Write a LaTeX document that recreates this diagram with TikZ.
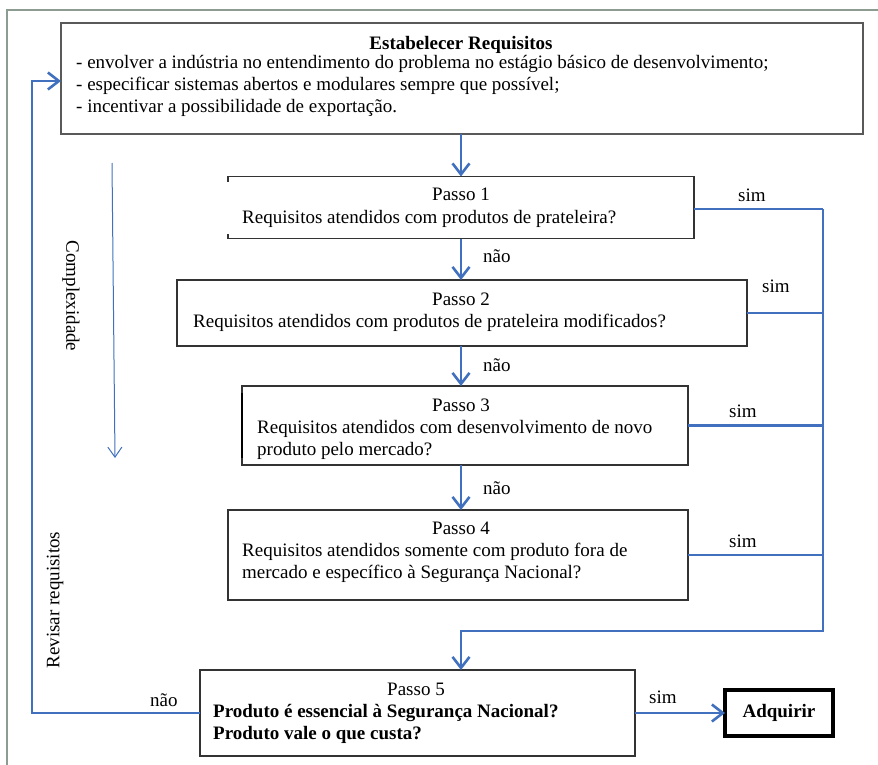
\documentclass[tikz,border=0pt]{standalone}
\usepackage{fontspec}
\setmainfont{Liberation Serif}
\usetikzlibrary{arrows.meta}
\definecolor{flowblue}{RGB}{65,113,190}
\definecolor{framegray}{RGB}{140,156,145}
\begin{document}
\begin{tikzpicture}[x=1pt,y=-1pt,
  txt/.style={font=\fontsize{19}{22}\selectfont, inner sep=0pt},
  btxt/.style={font=\fontsize{19}{22}\selectfont\bfseries, inner sep=0pt},
  boxshape/.style={rectangle, inner sep=0pt, outer sep=0pt},
  boxline/.style={draw=black!80, line width=1.1pt},
  flow/.style={draw=flowblue, line width=2.6pt, -{Straight Barb[length=11pt,width=17pt]}},
  conn/.style={draw=flowblue, line width=2.6pt},
  thinflow/.style={draw=flowblue, line width=1pt, -{Straight Barb[length=10pt,width=14pt]}}
]
\useasboundingbox (0,0) rectangle (878,765);
% outer frame
\draw[framegray, line width=2pt] (7,765) -- (7,10) -- (878,10);

% boxes
\node[boxshape, draw=black!65, line width=1.2pt, minimum width=802pt, minimum height=111pt] (req) at (462,78.5) {};
\node[boxshape, minimum width=466pt, minimum height=62pt] (p1) at (461,207.5) {};
\draw[boxline] ([yshift=-5pt]p1.north west) -- (p1.north west) -- (p1.north east) -- (p1.south east) -- (p1.south west) -- ([yshift=5pt]p1.south west);
\node[boxshape, boxline, minimum width=570pt, minimum height=66pt] (p2) at (462,313) {};
\node[boxshape, boxline, minimum width=446pt, minimum height=79pt] (p3) at (465,425.5) {};
\draw[black, line width=2pt] ([yshift=-7pt]p3.north west) -- ([yshift=7pt]p3.south west);
\node[boxshape, boxline, minimum width=460pt, minimum height=90pt] (p4) at (458,555) {};
\node[boxshape, boxline, minimum width=435pt, minimum height=86pt] (p5) at (417.5,713) {};
\node[boxshape, draw=black, line width=3.5pt, minimum width=108pt, minimum height=46pt, btxt] (adq) at (779,713) {Adquirir};

% texts
\node[btxt, anchor=base] (reqt) at (461,50) {Estabelecer Requisitos};
\node[txt, anchor=base west] (req1) at (76,69) {- envolver a indústria no entendimento do problema no estágio básico de desenvolvimento;};
\node[txt, anchor=base west] (req2) at (76,91) {- especificar sistemas abertos e modulares sempre que possível;};
\node[txt, anchor=base west] (req3) at (76,113) {- incentivar a possibilidade de exportação.};

\node[txt, anchor=base] (p1t) at (461,200) {Passo 1};
\node[txt, anchor=base west] (p1q) at (242,223) {Requisitos atendidos com produtos de prateleira?};
\node[txt, anchor=base] (p2t) at (461,305) {Passo 2};
\node[txt, anchor=base west] (p2q) at (193,327) {Requisitos atendidos com produtos de prateleira modificados?};
\node[txt, anchor=base] (p3t) at (461,411) {Passo 3};
\node[txt, anchor=base west] (p3q) at (257,433) {Requisitos atendidos com desenvolvimento de novo};
\node[txt, anchor=base west] (p3r) at (257,455) {produto pelo mercado?};
\node[txt, anchor=base] (p4t) at (461,534) {Passo 4};
\node[txt, anchor=base west] (p4q) at (242,556) {Requisitos atendidos somente com produto fora de};
\node[txt, anchor=base west] (p4r) at (242,578) {mercado e específico à Segurança Nacional?};
\node[txt, anchor=base] (p5t) at (416,695) {Passo 5};
\node[btxt, anchor=base west] (p5q) at (213,717) {Produto é essencial à Segurança Nacional?};
\node[btxt, anchor=base west] (p5r) at (213,739) {Produto vale o que custa?};

% labels
\node[txt, anchor=base west] (n1) at (483,262) {não};
\node[txt, anchor=base west] (n2) at (483,371) {não};
\node[txt, anchor=base west] (n3) at (483,494) {não};
\node[txt, anchor=base west] (n5) at (150,706) {não};
\node[txt, anchor=base west] (s1) at (738,201) {sim};
\node[txt, anchor=base west] (s2) at (762,292) {sim};
\node[txt, anchor=base west] (s3) at (729,417) {sim};
\node[txt, anchor=base west] (s4) at (729,547) {sim};
\node[txt, anchor=base west] (s5) at (649,703) {sim};
\node[txt, rotate=-90] (cx) at (71,296) {Complexidade};
\node[txt, rotate=90] (rv) at (55,600) {Revisar requisitos};

% coordinates
\coordinate (bt) at (823,209);
\coordinate (bb) at (823,631);
\coordinate (lt) at (32,81);
\coordinate (ca) at (112,163);
\coordinate (cb) at (115,458);

% connectors
\draw[flow] (p1.north |- req.south) -- (p1.north);
\draw[flow] (p1.south) -- (p1.south |- p2.north);
\draw[flow] (p1.south |- p2.south) -- (p1.south |- p3.north);
\draw[flow] (p1.south |- p3.south) -- (p1.south |- p4.north);
\draw[conn] (p1.east |- bt) -- (bt);
\draw[conn] (p2.east) -- (p2.east -| bt);
\draw[conn] (p3.east) -- (p3.east -| bt);
\draw[conn] (p4.east) -- (p4.east -| bt);
\draw[flow] (bt) -- (bb) -- (bb -| p1.south) -- (p5.north -| p1.south);
\draw[flow] (p5.west) -| (lt) -- (lt -| req.west);
\draw[flow] (p5.east) -- (adq.west);
\draw[thinflow] (ca) -- (cb);
\end{tikzpicture}
\end{document}
